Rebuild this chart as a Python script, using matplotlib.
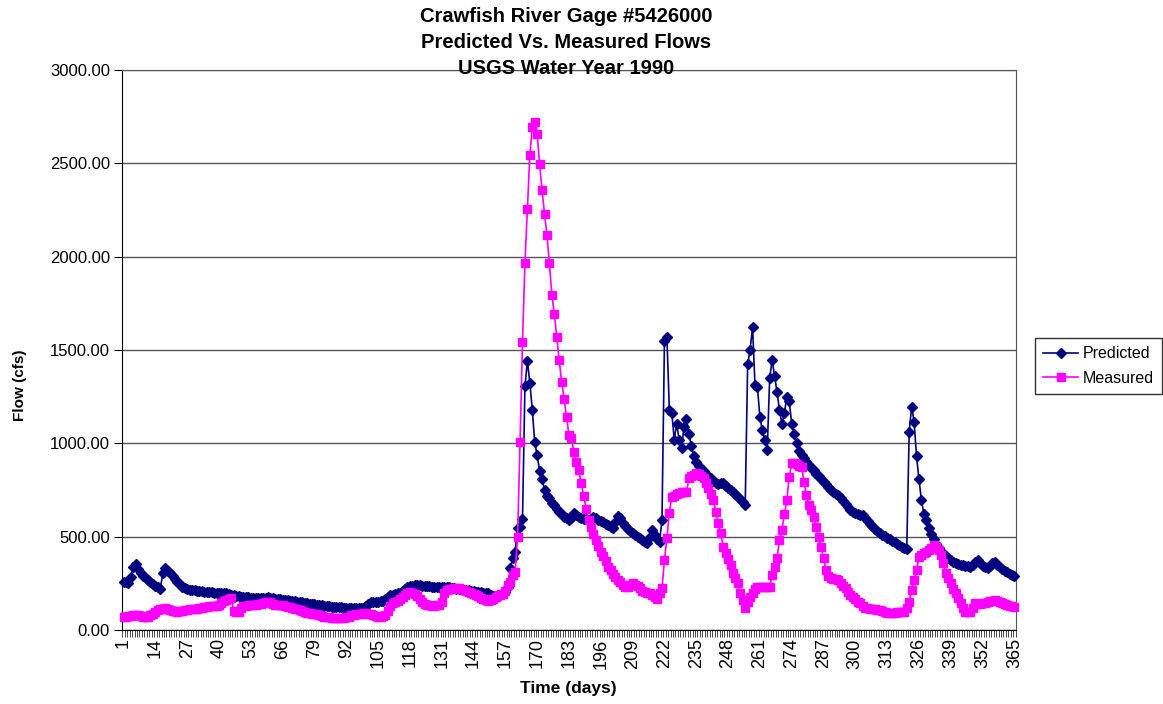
import matplotlib
matplotlib.use('Agg')
import matplotlib.pyplot as plt
from matplotlib.ticker import FormatStrFormatter

plt.rcParams['font.family'] = ['Liberation Sans', 'DejaVu Sans']

# daily flows (cfs), water year 1990, day 1..365
predicted = [
    258, 255, 250, 286, 335, 355, 325, 305, 290, 278,
    268, 258, 248, 238, 228, 218, 304, 330, 318, 304,
    288, 272, 259, 245, 232, 226, 220, 216, 214, 212,
    210, 208, 207, 206, 205, 204, 203, 200, 198, 197,
    196, 200, 196, 192, 188, 185, 182, 180, 178, 177,
    176, 175, 174, 172, 171, 170, 170, 171, 173, 175,
    172, 170, 168, 166, 164, 162, 160, 159, 157, 156,
    154, 152, 150, 148, 146, 144, 142, 140, 138, 136,
    134, 132, 130, 128, 126, 125, 124, 123, 122, 121,
    120, 119, 118, 118, 117, 116, 116, 116, 118, 130,
    142, 150, 152, 150, 152, 155, 158, 165, 175, 185,
    190, 193, 196, 200, 210, 222, 232, 236, 238, 240,
    241, 240, 238, 236, 235, 234, 233, 232, 232, 231,
    230, 230, 229, 228, 226, 224, 222, 220, 218, 216,
    214, 212, 210, 208, 206, 204, 202, 200, 198, 196,
    190, 180, 178, 185, 190, 198, 205, 230, 330, 386,
    420, 546, 553, 593, 1305, 1440, 1325, 1180, 1005, 935,
    850, 810, 750, 720, 705, 680, 670, 650, 634, 620,
    607, 598, 590, 600, 625, 615, 605, 598, 595, 592,
    589, 595, 607, 598, 590, 582, 580, 570, 560, 552,
    545, 580, 610, 600, 571, 556, 540, 528, 518, 510,
    500, 491, 482, 473, 464, 500, 536, 509, 490, 473,
    589, 1550, 1570, 1180, 1165, 1020, 1105, 1020, 975, 1090,
    1130, 1050, 985, 930, 900, 880, 865, 850, 838, 826,
    815, 800, 786, 780, 790, 786, 772, 760, 750, 740,
    728, 714, 700, 685, 670, 1425, 1500, 1625, 1310, 1300,
    1140, 1070, 1020, 965, 1350, 1445, 1360, 1275, 1180, 1105,
    1160, 1250, 1225, 1105, 1050, 1000, 960, 935, 920, 900,
    884, 870, 855, 838, 825, 810, 795, 780, 765, 752,
    740, 730, 723, 705, 690, 675, 660, 645, 632, 625,
    620, 618, 616, 600, 585, 570, 555, 540, 530, 520,
    510, 502, 495, 487, 478, 470, 462, 455, 447, 440,
    432, 1062, 1196, 1116, 930, 807, 696, 621, 590, 545,
    515, 490, 460, 440, 420, 410, 395, 385, 375, 366,
    360, 355, 350, 348, 345, 342, 340, 350, 365, 375,
    360, 345, 335, 330, 345, 360, 366, 350, 335, 325,
    318, 310, 300, 292, 288,
]

measured = [
    70, 72, 75, 75, 78, 80, 78, 75, 72, 70,
    72, 78, 85, 95, 105, 110, 115, 120, 115, 105,
    100, 100, 98, 100, 102, 105, 108, 110, 112, 115,
    115, 118, 120, 122, 125, 128, 130, 128, 130, 135,
    145, 155, 162, 168, 170, 100, 96, 98, 120, 128,
    130, 132, 134, 135, 136, 138, 142, 145, 148, 150,
    150, 140, 134, 134, 133, 132, 128, 125, 122, 120,
    115, 110, 105, 100, 96, 92, 90, 88, 86, 84,
    80, 76, 72, 70, 68, 66, 65, 64, 64, 65,
    66, 68, 72, 80, 82, 84, 86, 88, 90, 90,
    88, 84, 78, 74, 72, 72, 74, 80, 100, 130,
    145, 150, 155, 165, 175, 190, 200, 205, 200, 195,
    180, 165, 150, 140, 135, 132, 130, 130, 132, 135,
    150, 200, 212, 218, 222, 225, 226, 224, 220, 215,
    210, 205, 200, 195, 188, 180, 172, 165, 160, 158,
    160, 165, 175, 185, 190, 195, 210, 240, 259, 295,
    310, 500, 1005, 1545, 1965, 2255, 2545, 2695, 2720, 2655,
    2495, 2355, 2230, 2115, 1965, 1795, 1695, 1570, 1445, 1330,
    1240, 1140, 1045, 1030, 955, 900, 855, 785, 720, 650,
    590, 550, 515, 480, 450, 420, 395, 370, 340, 320,
    300, 285, 270, 255, 240, 232, 232, 240, 250, 242,
    235, 225, 210, 205, 200, 196, 185, 178, 165, 200,
    223, 375, 491, 629, 714, 720, 730, 735, 741, 741,
    741, 812, 825, 830, 839, 835, 825, 812, 790, 759,
    730, 696, 634, 571, 518, 446, 411, 380, 348, 304,
    280, 250, 196, 160, 116, 150, 178, 200, 220, 232,
    232, 232, 232, 232, 232, 295, 340, 384, 482, 536,
    620, 696, 821, 893, 893, 890, 880, 875, 795, 723,
    670, 643, 607, 553, 500, 446, 384, 321, 290, 277,
    275, 272, 268, 250, 235, 223, 205, 190, 178, 165,
    150, 143, 130, 120, 116, 115, 112, 110, 108, 107,
    100, 95, 90, 89, 90, 92, 95, 96, 98, 98,
    120, 152, 214, 268, 321, 393, 400, 411, 420, 428,
    440, 455, 445, 428, 400, 357, 304, 280, 250, 220,
    196, 170, 143, 120, 98, 95, 98, 120, 143, 140,
    140, 143, 145, 150, 155, 158, 161, 155, 150, 143,
    140, 135, 130, 128, 125,
]

days = list(range(1, len(predicted) + 1))
tick_days = list(range(1, 366, 13))
y_ticks = [0, 500, 1000, 1500, 2000, 2500, 3000]

fig = plt.figure(figsize=(11.63, 7.04), dpi=100)
ax = fig.add_axes([0.1052, 0.1051, 0.7681, 0.7955])

ax.plot(days, predicted, color='#000080', lw=1.2, marker='D', ms=5,
        label='Predicted', clip_on=False, zorder=3)
ax.plot(days, measured, color='#FF00FF', lw=1.2, marker='s', ms=5.5,
        label='Measured', clip_on=False, zorder=4)

ax.set_xlim(0.5, 365.5)
ax.set_ylim(0, 3000)

ax.set_yticks(y_ticks)
ax.yaxis.set_major_formatter(FormatStrFormatter('%.2f'))
ax.yaxis.grid(True, color='#555555', lw=1)
ax.set_axisbelow(True)
ax.tick_params(axis='y', length=6, width=0.8, labelsize=12, pad=3)

ax.set_xticks(tick_days)
ax.set_xticklabels([str(d) for d in tick_days], rotation=90, fontsize=13)
ax.set_xticks([d + 0.5 for d in range(0, 366)], minor=True)
ax.tick_params(axis='x', which='major', length=0, pad=6)
ax.tick_params(axis='x', which='minor', length=5, width=0.5)

ax.spines['top'].set_color('#555555')
ax.spines['right'].set_color('#555555')
ax.spines['left'].set_color('black')
ax.spines['bottom'].set_color('black')

cx = 566 / 1163
fig.text(cx, 1 - 17 / 704, 'Crawfish River Gage #5426000', ha='center', va='center',
         fontsize=14.5, fontweight='bold')
fig.text(cx, 1 - 43 / 704, 'Predicted Vs. Measured Flows', ha='center', va='center',
         fontsize=14.5, fontweight='bold')
fig.text(cx, 1 - 68 / 704, 'USGS Water Year 1990', ha='center', va='center',
         fontsize=14.5, fontweight='bold')

fig.text(20 / 1163, 1 - 385 / 704, 'Flow (cfs)', rotation=90, ha='center', va='center',
         fontsize=11, fontweight='bold')
fig.text(568 / 1163, 1 - 688 / 704, 'Time (days)', ha='center', va='center',
         fontsize=12.5, fontweight='bold')

leg = fig.legend(loc='center left', bbox_to_anchor=(1035 / 1163, 0.48), frameon=True,
                 fancybox=False, edgecolor='black', fontsize=11.5, borderaxespad=0,
                 handlelength=2.2, handletextpad=0.3, borderpad=0.5, labelspacing=0.6)
leg.get_frame().set_linewidth(1)

fig.savefig('out.png', dpi=100)
